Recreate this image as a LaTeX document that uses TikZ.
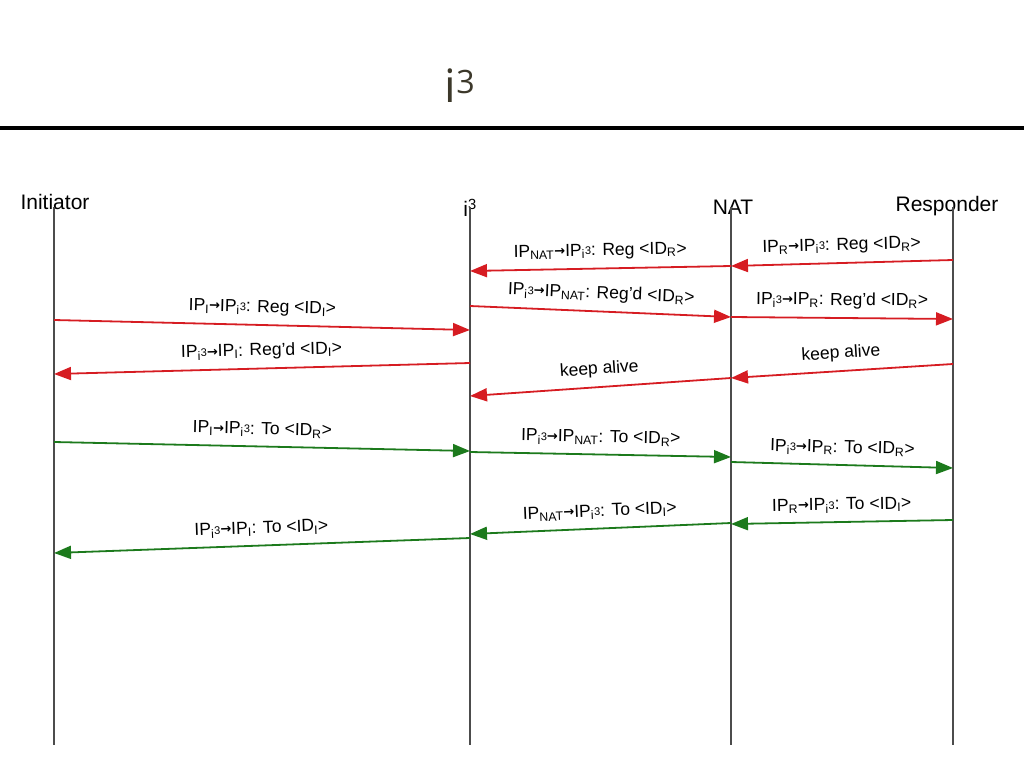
\documentclass[tikz,border=0pt]{standalone}
\usepackage{fontspec}
\setmainfont{Liberation Sans}
\newfontfamily\titlefont{Open Sans}
\newfontfamily\arrowfont{DejaVu Sans}
\usetikzlibrary{arrows.meta}
\definecolor{msgred}{RGB}{214,28,34}
\definecolor{msggreen}{RGB}{28,122,28}
\definecolor{titlegray}{RGB}{60,56,42}
\newcommand{\ithree}{\textsubscript{i}{\fontsize{11}{11}\selectfont\raisebox{1pt}{3}}}
\newcommand{\IPi}{IP\ithree}
\newcommand{\IPR}{IP\textsubscript{R}}
\newcommand{\IPI}{IP\textsubscript{I}}
\newcommand{\IPN}{IP\textsubscript{NAT}}
\newcommand{\IDR}{<ID\textsubscript{R}>}
\newcommand{\IDI}{<ID\textsubscript{I}>}
\newcommand{\msgto}{{\arrowfont\bfseries\fontsize{13}{13}\selectfont\raisebox{1pt}{→}}}

\begin{document}
\begin{tikzpicture}[x=1pt,y=-1pt,
    life/.style={draw=black!70, line width=1.6pt},
    msg/.style={line width=1.8pt, -{Triangle[length=17pt,width=13pt]}},
    lbl/.style={font=\fontsize{17.5}{17.5}\selectfont, above=5pt, sloped, midway},
    head/.style={font=\fontsize{21}{21}\selectfont}]
        \useasboundingbox (0,0) rectangle (1024,768);

        % title and rule
        \node [titlegray, font=\titlefont\fontsize{46}{46}\selectfont] (title) at (460,86) {i\textsuperscript{3}};
        \fill (0,126) rectangle (1024,130);

        % participants
        \node [head] (init) at (55,202) {Initiator};
        \node [head] (i3) at (470,208) {i\textsuperscript{3}};
        \node [head] (nat) at (733,207) {NAT};
        \node [head] (resp) at (947,206) {Responder};

        \coordinate (initT) at (54,207);  \coordinate (initB) at (54,745);
        \coordinate (i3T) at (470,207);   \coordinate (i3B) at (470,745);
        \coordinate (natT) at (731,207);  \coordinate (natB) at (731,745);
        \coordinate (respT) at (953,207); \coordinate (respB) at (953,745);

        \draw [life] (initT) -- (initB);
        \draw [life] (i3T) -- (i3B);
        \draw [life] (natT) -- (natB);
        \draw [life] (respT) -- (respB);

        % registration
        \coordinate (r1) at (953,260); \coordinate (n1) at (731,266); \coordinate (i1) at (470,271);
        \coordinate (i2) at (470,306); \coordinate (n2) at (731,317); \coordinate (r2) at (953,319);
        \coordinate (a1) at (54,320);  \coordinate (i3a) at (470,330);
        \coordinate (i4) at (470,363); \coordinate (a2) at (54,374);
        \coordinate (r3) at (953,364); \coordinate (n3) at (731,378); \coordinate (i5) at (470,396);

        \draw [msg, msgred] (r1) -- node [lbl, black] {\IPR\msgto\IPi: Reg \IDR} (n1);
        \draw [msg, msgred] (n1) -- node [lbl, black] {\IPN\msgto\IPi: Reg \IDR} (i1);
        \draw [msg, msgred] (i2) -- node [lbl, black] {\IPi\msgto\IPN: Reg'd \IDR} (n2);
        \draw [msg, msgred] (n2) -- node [lbl, black] {\IPi\msgto\IPR: Reg'd \IDR} (r2);
        \draw [msg, msgred] (a1) -- node [lbl, black] {\IPI\msgto\IPi: Reg \IDI} (i3a);
        \draw [msg, msgred] (i4) -- node [lbl, black] {\IPi\msgto\IPI: Reg'd \IDI} (a2);
        \draw [msg, msgred] (r3) -- node [lbl, black] {keep alive} (n3);
        \draw [msg, msgred] (n3) -- node [lbl, black] {keep alive} (i5);

        % data
        \coordinate (a3) at (54,442);  \coordinate (i6) at (470,451);
        \coordinate (i7) at (470,452); \coordinate (n4) at (731,457);
        \coordinate (n5) at (731,462); \coordinate (r4) at (953,468);
        \coordinate (r5) at (953,520); \coordinate (n6) at (731,524);
        \coordinate (n7) at (731,523); \coordinate (i8) at (470,534);
        \coordinate (i9) at (470,538); \coordinate (a4) at (54,553);

        \draw [msg, msggreen] (a3) -- node [lbl, black] {\IPI\msgto\IPi: To \IDR} (i6);
        \draw [msg, msggreen] (i7) -- node [lbl, black] {\IPi\msgto\IPN: To \IDR} (n4);
        \draw [msg, msggreen] (n5) -- node [lbl, black] {\IPi\msgto\IPR: To \IDR} (r4);
        \draw [msg, msggreen] (r5) -- node [lbl, black] {\IPR\msgto\IPi: To \IDI} (n6);
        \draw [msg, msggreen] (n7) -- node [lbl, black] {\IPN\msgto\IPi: To \IDI} (i8);
        \draw [msg, msggreen] (i9) -- node [lbl, black] {\IPi\msgto\IPI: To \IDI} (a4);
\end{tikzpicture}
\end{document}
